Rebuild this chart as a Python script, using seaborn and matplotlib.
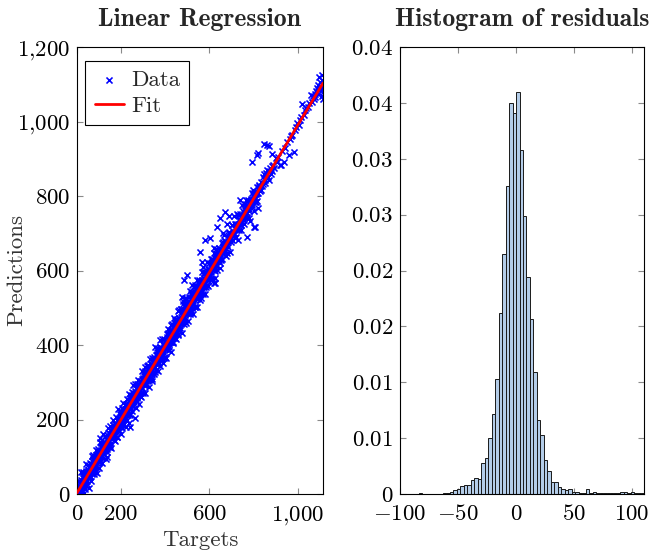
import numpy as np
import pandas as pd
import matplotlib
matplotlib.use("Agg")
import matplotlib.pyplot as plt
import seaborn as sns

# ---------------- data: scatter (targets vs predictions) ----------------
targets_a = [1, 4, 5, 8, 9, 12, 13, 15, 18, 19, 22, 23, 25, 28, 29, 31, 34, 35, 37, 40,
             41, 43, 46, 47, 49, 52, 53, 55, 58, 59, 61, 64, 65, 67, 70, 71, 73, 76, 77, 79,
             82, 83, 85, 88, 89, 91, 94, 95, 97, 100]
preds_a = [7, 1, 17, 6, 19, 1, 17, 31, 11, 26, 8, 34, 25, 47, 24, 36, 24, 49, 45, 37,
           63, 36, 48, 35, 58, 64, 50, 73, 49, 63, 45, 73, 80, 66, 64, 95, 79, 65, 88, 80,
           98, 65, 93, 99, 83, 96, 120, 91, 111, 85]

targets_b = [101, 102, 105, 106, 108, 111, 112, 114, 117, 118, 120, 123, 124, 126, 129, 130,
             132, 135, 136, 138, 141, 142, 144, 147, 148, 150, 153, 154, 156, 159, 160, 162,
             165, 166, 168, 171, 172, 174, 177, 178, 180, 183, 184, 186, 189, 190, 192, 195,
             196, 198]
preds_b = [96, 112, 92, 110, 126, 103, 113, 126, 96, 125, 118, 137, 115, 134, 153, 125,
           135, 120, 147, 138, 146, 134, 164, 143, 161, 125, 161, 153, 172, 148, 165, 156,
           186, 168, 156, 180, 156, 181, 190, 174, 184, 153, 195, 179, 205, 193, 181, 202,
           194, 210]

targets_c = [200, 203, 204, 206, 209, 210, 212, 215, 216, 218, 221, 222, 224, 227, 228, 230,
             233, 234, 236, 239, 240, 242, 245, 246, 248, 251, 252, 254, 257, 258, 260, 263,
             264, 266, 269, 270, 272, 275, 276, 278, 281, 282, 284, 287, 288, 290, 293, 294,
             296, 299]
preds_c = [206, 191, 206, 221, 201, 188, 221, 211, 228, 202, 224, 241, 215, 227, 200, 237,
           245, 229, 191, 248, 238, 259, 231, 251, 240, 273, 251, 235, 264, 261, 250, 276,
           204, 272, 264, 281, 257, 276, 296, 271, 289, 270, 288, 262, 304, 287, 299, 285,
           309, 297]

targets_d = [300, 303, 304, 306, 309, 310, 312, 315, 316, 318, 321, 322, 324, 327, 328, 330,
             333, 334, 336, 339, 340, 342, 345, 346, 348, 351, 352, 354, 357, 358, 360, 363,
             364, 366, 369, 370, 372, 375, 376, 378, 381, 382, 384, 387, 388, 390, 393, 394,
             396, 399]
preds_d = [306, 294, 317, 292, 309, 329, 306, 295, 324, 317, 309, 346, 319, 336, 306, 333,
           329, 349, 326, 303, 347, 344, 328, 355, 340, 367, 352, 327, 361, 354, 372, 350,
           392, 359, 374, 353, 373, 394, 363, 382, 374, 393, 363, 385, 402, 381, 400, 364,
           398, 408]

targets_e = [400, 403, 404, 406, 409, 410, 412, 415, 416, 418, 421, 422, 424, 427, 428, 430,
             433, 434, 436, 439, 440, 442, 445, 446, 448, 451, 452, 454, 457, 458, 460, 463,
             464, 466, 469, 470, 472, 475, 476, 478, 481, 482, 484, 487, 488, 490, 493, 494,
             496, 499]
preds_e = [390, 410, 399, 421, 392, 412, 433, 402, 415, 394, 431, 415, 429, 407, 454, 428,
           418, 437, 406, 448, 434, 459, 433, 447, 431, 463, 448, 460, 430, 462, 492, 453,
           473, 445, 468, 457, 496, 469, 488, 463, 483, 517, 474, 493, 465, 489, 507, 486,
           525, 486]

targets_f = [500, 503, 504, 506, 509, 510, 512, 515, 516, 518, 521, 522, 524, 527, 528, 530,
             533, 534, 536, 539, 540, 542, 545, 546, 548, 551, 552, 554, 557, 558, 560, 563,
             564, 566, 569, 570, 572, 575, 576, 578, 581, 582, 584, 587, 588, 590, 593, 594,
             596, 599, 600, 602, 605, 606, 608, 611, 612, 614, 617, 618, 620, 623, 624, 626,
             629, 630, 632, 635, 636, 638, 641, 642, 644, 647, 648]
preds_f = [500, 485, 516, 498, 512, 485, 508, 522, 504, 537, 500, 521, 518, 540, 514, 536,
           501, 535, 561, 529, 549, 526, 541, 523, 551, 567, 541, 552, 538, 569, 553, 567,
           525, 568, 555, 610, 562, 581, 555, 574, 594, 566, 584, 577, 586, 562, 595, 587,
           604, 585, 605, 599, 586, 618, 597, 612, 577, 619, 608, 627, 605, 620, 580, 633,
           616, 645, 612, 630, 639, 628, 651, 625, 644, 620, 643]

# wide-spread points along the dense band
targets_w = [2, 6, 10, 14, 18, 22, 26, 30, 34, 38, 42, 46, 50, 54, 58, 62, 66, 70, 74, 78,
             82, 86, 90, 94, 98, 102, 106, 110, 114, 118, 122, 126, 130, 134, 138, 142, 146, 150, 154, 158,
             162, 166, 170, 174, 178, 182, 186, 190, 194, 198, 202, 206, 210, 214, 218, 222, 226, 230, 234, 238,
             242, 246, 250, 254, 258, 262, 266, 270, 274, 278, 282, 286, 290, 294, 298, 302, 306, 310, 314, 318,
             322, 326, 330, 334, 338, 342, 346, 350, 354, 358, 362, 366, 370, 374, 378, 382, 386, 390, 394, 398,
             402, 406, 410, 414, 418, 422, 426, 430, 434, 438, 442, 446, 450, 454, 458, 462, 466, 470, 474, 478,
             482, 486, 490, 494, 498, 502, 506, 510, 514, 518, 522, 526, 530, 534, 538, 542, 546, 550, 554, 558,
             562, 566, 570, 574, 578, 582, 586, 590, 594, 598, 602, 606, 610, 614, 618, 622, 626, 630, 634, 638,
             642, 646]
preds_w = [18, 1, 35, 2, 59, 6, 60, 3, 56, 13, 80, 27, 79, 17, 82, 35, 102, 54, 105, 53,
           60, 118, 57, 116, 71, 140, 87, 137, 84, 161, 107, 155, 93, 158, 113, 177, 127, 183, 124, 177,
           200, 144, 190, 141, 206, 154, 227, 173, 219, 162, 232, 185, 243, 188, 238, 180, 254, 211, 269, 214,
           212, 267, 223, 293, 242, 294, 231, 294, 251, 306, 242, 303, 261, 329, 272, 323, 272, 340, 293, 343,
           344, 287, 363, 311, 364, 309, 363, 322, 394, 333, 387, 330, 388, 343, 413, 363, 415, 352, 416, 368,
           364, 429, 388, 444, 387, 441, 382, 457, 407, 473, 419, 468, 415, 470, 428, 494, 440, 496, 433, 495,
           509, 457, 525, 460, 512, 465, 529, 484, 546, 495, 542, 482, 555, 503, 554, 502, 574, 527, 575, 522,
           536, 595, 536, 593, 537, 597, 556, 622, 558, 621, 578, 632, 577, 631, 573, 646, 598, 659, 602, 651,
           661, 608]

# medium-spread points along the dense band
targets_m = [4, 8, 12, 16, 20, 24, 28, 32, 36, 40, 44, 48, 52, 56, 60, 64, 68, 72, 76, 80,
             84, 88, 92, 96, 100, 104, 108, 112, 116, 120, 124, 128, 132, 136, 140, 144, 148, 152, 156, 160,
             164, 168, 172, 176, 180, 184, 188, 192, 196, 200, 204, 208, 212, 216, 220, 224, 228, 232, 236, 240,
             244, 248, 252, 256, 260, 264, 268, 272, 276, 280, 284, 288, 292, 296, 300, 304, 308, 312, 316, 320,
             324, 328, 332, 336, 340, 344, 348, 352, 356, 360, 364, 368, 372, 376, 380, 384, 388, 392, 396, 400,
             404, 408, 412, 416, 420, 424, 428, 432, 436, 440, 444, 448, 452, 456, 460, 464, 468, 472, 476, 480,
             484, 488, 492, 496, 500, 504, 508, 512, 516, 520, 524, 528, 532, 536, 540, 544, 548, 552, 556, 560,
             564, 568, 572, 576, 580, 584, 588, 592, 596, 600, 604, 608, 612, 616, 620, 624, 628, 632, 636, 640,
             644, 648]
preds_m = [15, 1, 19, 13, 38, 24, 42, 19, 45, 34, 60, 46, 57, 45, 73, 60, 88, 72, 87, 71,
           78, 104, 90, 105, 87, 111, 100, 126, 116, 138, 120, 133, 120, 146, 140, 156, 132, 159, 152, 174,
           175, 165, 188, 168, 184, 172, 196, 187, 215, 198, 216, 198, 217, 201, 228, 221, 242, 224, 238, 227,
           238, 256, 237, 259, 271, 256, 268, 260, 291, 276, 291, 271, 297, 294, 312, 293, 309, 298, 325, 312,
           336, 319, 335, 322, 347, 340, 363, 340, 357, 352, 373, 352, 377, 370, 393, 374, 387, 377, 404, 394,
           390, 411, 406, 426, 409, 425, 409, 439, 432, 444, 429, 460, 444, 455, 448, 473, 461, 476, 458, 481,
           486, 469, 499, 489, 504, 490, 506, 501, 526, 511, 529, 523, 544, 520, 539, 533, 555, 538, 554, 542,
           557, 575, 559, 576, 558, 588, 579, 600, 585, 596, 588, 609, 603, 625, 602, 622, 615, 636, 625, 645,
           645, 633]

targets_g = [650, 653, 656, 659, 662, 665, 668, 671, 674, 677, 680, 683, 686, 689, 692, 695,
             698, 701, 704, 707, 710, 713, 716, 719, 722, 725, 728, 731, 734, 737, 740, 743,
             746, 749, 752, 755, 758, 761, 764, 767, 770, 773, 776, 779, 782, 785, 788, 791,
             794, 797, 800, 803, 806, 809, 812, 815, 818, 821, 824, 827]
preds_g = [655, 628, 674, 656, 646, 696, 658, 679, 640, 677, 725, 664, 680, 702, 650, 697,
           685, 723, 681, 702, 746, 697, 725, 689, 720, 715, 748, 683, 737, 724, 751, 722,
           740, 776, 735, 755, 725, 767, 753, 789, 744, 770, 790, 764, 732, 787, 778, 808,
           771, 792, 761, 809, 791, 809, 783, 824, 807, 767, 822, 830]

targets_g2 = [652, 658, 664, 670, 676, 682, 688, 694, 700, 706, 712, 718, 724, 730, 736, 742,
              748, 754, 760, 766, 772, 778, 784, 790, 796, 802, 808, 814, 820, 826]
preds_g2 = [650, 647, 665, 661, 672, 668, 687, 687, 687, 707, 701, 714, 708, 724, 735, 730,
            741, 740, 762, 756, 768, 760, 778, 787, 786, 801, 794, 807, 808, 821]

targets_u = [655, 661, 667, 673, 679, 685, 691, 697, 703, 709, 715, 721, 727, 733, 739, 745,
             751, 757, 763, 769, 775, 781, 787, 793, 799, 805, 811, 817, 823, 829]
preds_u = [630, 676, 651, 680, 647, 686, 703, 677, 722, 695, 686, 724, 752, 709, 736, 709,
           760, 745, 779, 741, 775, 741, 793, 776, 816, 784, 805, 786, 827, 813]

targets_h = [833, 836, 839, 842, 845, 848, 851, 854, 857, 860, 863, 866, 869, 872, 875, 878,
             882, 886, 890, 895, 900, 905, 912, 918, 923, 930, 938, 945, 952, 960, 966, 972,
             976, 983, 988, 993, 998, 1004, 1010, 1016, 1021, 1027, 1033, 1040, 1046, 1052,
             1059, 1064, 1069, 1073, 1077, 1081, 1085, 1088, 1091, 1094, 1097, 1100, 1103,
             1106, 1109, 1111, 1113, 1115, 1117, 1116, 1112]
preds_h = [815, 838, 826, 850, 831, 858, 844, 836, 862, 848, 870, 852, 842, 866, 874, 858,
           880, 868, 884, 875, 902, 890, 905, 884, 883, 921, 892, 930, 944, 910, 953, 960,
           964, 919, 978, 985, 995, 990, 1005, 1012, 1046, 1018, 1030, 1035, 1040, 1050,
           1071, 1052, 1068, 1060, 1075, 1066, 1082, 1090, 1074, 1098, 1120, 1085, 1105,
           1092, 1112, 1125, 1078, 1100, 1088, 1060, 1068]

targets_out = [559, 565, 582, 605, 620, 635, 650, 660, 673, 690, 741, 794, 817, 820, 847, 862,
               870, 885, 499, 483, 476, 521, 240, 203, 105, 135, 620, 771, 800, 809, 627]
preds_out = [650, 624, 682, 686, 660, 718, 740, 700, 758, 745, 789, 890, 910, 915, 939, 937,
             935, 912, 588, 574, 530, 560, 181, 176, 150, 100, 566, 691, 717, 718, 566]

# fitted line (end points)
fit_targets = [0, 1115]
fit_preds = [3, 1103]

# ---------------- data: histogram of residuals ----------------
hist_start = -99
hist_width = 3
hist_density = [0, 0, 0, 0, 0, 0.00012, 0, 0, 0, 0,
                0, 0, 0.00006, 0.00012, 0.00021, 0.00036, 0.00048, 0.00072, 0.00078, 0.00078,
                0.00123, 0.00144, 0.0013, 0.0028, 0.0032, 0.0050, 0.00715, 0.0103, 0.0162, 0.0215,
                0.0276, 0.0350, 0.0341, 0.0360, 0.0308, 0.0249, 0.0194, 0.0157, 0.0109, 0.0066,
                0.0053, 0.0030, 0.0021, 0.00105, 0.00105, 0.0006, 0.00048, 0.00036, 0.00048, 0.00018,
                0.00018, 0.00012, 0.00006, 0.00042, 0.00006, 0.00018, 0.00006, 0.00012, 0.00006, 0.00006,
                0.00006, 0.00012, 0.00012, 0.00018, 0.00018, 0.00006, 0.00018, 0.00006, 0.00006, 0.00006]

# ---------------- ticks ----------------
left_xticks = [0, 200, 600, 1000]
left_xlabels = [r"$0$", r"$200$", r"$600$", r"$1{,}000$"]
left_yticks = [0, 200, 400, 600, 800, 1000, 1200]
left_ylabels = [r"$0$", r"$200$", r"$400$", r"$600$", r"$800$", r"$1{,}000$", r"$1{,}200$"]
right_xticks = [-100, -50, 0, 50, 100]
right_xlabels = [r"$-100$", r"$-50$", r"$0$", r"$50$", r"$100$"]
right_yticks = [0, 0.005, 0.01, 0.015, 0.02, 0.025, 0.03, 0.035, 0.04]
right_ylabels = [r"$0$", r"$0.01$", r"$0.01$", r"$0.02$", r"$0.02$", r"$0.03$", r"$0.03$",
                 r"$0.04$", r"$0.04$"]

# ---------------- style ----------------
sns.set_theme(style="white")
plt.rcParams["font.family"] = ["cmr10", "DejaVu Serif"]
plt.rcParams["mathtext.fontset"] = "cm"
plt.rcParams["axes.formatter.use_mathtext"] = True

FS = 16.5

scatter_df = pd.DataFrame({
    "target": np.concatenate([targets_a, targets_b, targets_c, targets_d, targets_e,
                              targets_f, targets_w, targets_m, targets_g, targets_g2,
                              targets_u, targets_h, targets_out]),
    "prediction": np.concatenate([preds_a, preds_b, preds_c, preds_d, preds_e,
                                  preds_f, preds_w, preds_m, preds_g, preds_g2,
                                  preds_u, preds_h, preds_out]),
})
fit_df = pd.DataFrame({"target": fit_targets, "prediction": fit_preds})

n_bins = len(hist_density)
hist_df = pd.DataFrame({"residual": hist_start + hist_width * (np.arange(n_bins) + 0.5),
                        "density": hist_density})

fig = plt.figure(figsize=(6.6, 5.54), dpi=100)
ax1 = fig.add_axes([77 / 660, 60 / 554, 246 / 660, 447 / 554])
ax2 = fig.add_axes([400 / 660, 60 / 554, 244 / 660, 447 / 554])

sns.scatterplot(data=scatter_df, x="target", y="prediction", ax=ax1, marker="x",
                color="blue", s=19, linewidth=1.15, label="Data", zorder=2)
sns.lineplot(data=fit_df, x="target", y="prediction", ax=ax1, color="red",
             linewidth=2.0, label="Fit", zorder=3)

ax1.set_xlim(0, 1115)
ax1.set_ylim(0, 1200)
ax1.set_xticks(left_xticks, left_xlabels)
ax1.set_yticks(left_yticks, left_ylabels)
ax1.set_xlabel("Targets", fontsize=FS, color="#333333")
ax1.set_ylabel("Predictions", fontsize=FS, color="#333333")
ax1.xaxis.set_label_coords(0.5, -0.082)
ax1.yaxis.set_label_coords(-0.205, 0.5)
ax1.set_title("Linear Regression", fontfamily="cmb10", fontsize=18.5, pad=15)

leg = ax1.legend(loc="upper left", bbox_to_anchor=(0.034, 0.969), borderaxespad=0,
                 frameon=True, fancybox=False, edgecolor="black", framealpha=1,
                 fontsize=FS, handlelength=1.3, handletextpad=0.3, labelspacing=0.25,
                 borderpad=0.4)
leg.get_frame().set_linewidth(0.8)

sns.histplot(data=hist_df, x="residual", weights="density", binwidth=hist_width,
             binrange=(hist_start, hist_start + hist_width * n_bins), ax=ax2,
             color="#b4cde9", edgecolor="#1a1a1a", linewidth=0.7, alpha=1)
ax2.set_xlim(-99.5, 110.3)
ax2.set_ylim(0, 0.04)
ax2.set_xticks(right_xticks, right_xlabels)
ax2.set_yticks(right_yticks, right_ylabels)
ax2.set_xlabel("")
ax2.set_ylabel("")
ax2.set_title("Histogram of residuals", fontfamily="cmb10", fontsize=18.5, pad=15)

for ax in (ax1, ax2):
    for sp in ax.spines.values():
        sp.set_visible(True)
        sp.set_color("black")
        sp.set_linewidth(0.8)
    ax.tick_params(which="both", direction="in", top=True, bottom=True, left=True,
                   right=True, length=4.5, width=0.8, color="#8a8a8a",
                   labelsize=FS, labelcolor="black")
    ax.tick_params(axis="x", pad=7.5)
    ax.tick_params(axis="y", pad=5)

fig.savefig("out.png", dpi=100)
